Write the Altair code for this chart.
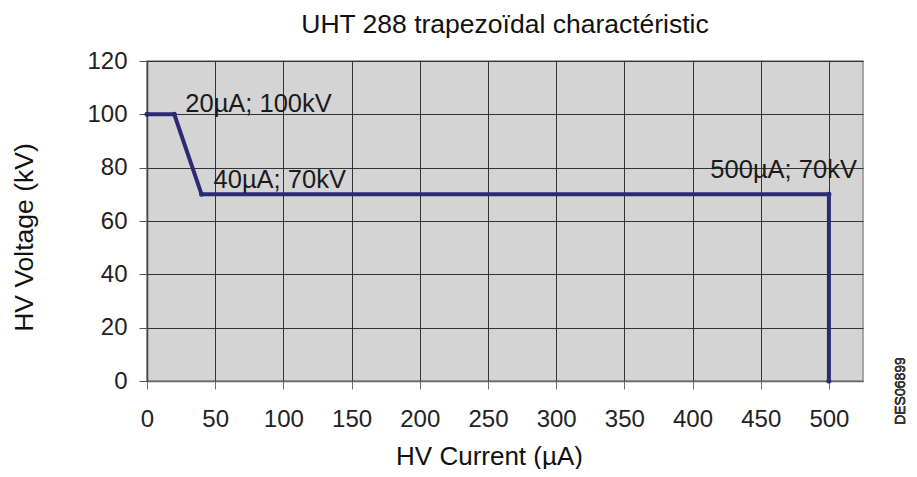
import altair as alt
import pandas as pd

# Data
current_uA = [0, 20, 40, 500, 500]
voltage_kV = [100, 100, 70, 70, 0]

label_current = [20, 40, 500]
label_voltage = [100, 70, 70]
label_text = ["20µA; 100kV", "40µA; 70kV", "500µA; 70kV"]

x_tick_values = list(range(0, 526, 25))
y_tick_values = list(range(0, 121, 10))

FONT = "Liberation Sans"
LINE_COLOR = "#2B2B75"

df = pd.DataFrame({"current": current_uA, "voltage": voltage_kV,
                   "order": list(range(len(current_uA)))})
lab = pd.DataFrame({"current": label_current, "voltage": label_voltage,
                    "text": label_text, "idx": list(range(len(label_text)))})

xscale = alt.Scale(domain=[0, 525], nice=False, zero=True)
yscale = alt.Scale(domain=[0, 120], nice=False, zero=True)

xaxis = alt.Axis(
    values=x_tick_values,
    labelExpr="(datum.value % 50 === 0 && datum.value <= 500) ? datum.label : ''",
    tickColor={"condition": {"test": "datum.value % 50 === 0 && datum.value <= 500",
                             "value": "#707070"}, "value": "transparent"},
    tickSize=8,
    labelPadding=18,
    labelFontSize=24,
    labelFont=FONT,
    labelColor="#222222",
    labelFlush=False,
    labelOverlap=False,
    grid=True,
    gridColor="#333333",
    gridWidth=1,
    domainColor="#666666",
    domainWidth=1.5,
    title="HV Current (µA)",
    titleFont=FONT,
    titleFontSize=26,
    titleFontWeight="normal",
    titleColor="#111111",
    titleBaseline="alphabetic",
    titleX=342,
    titleY=83,
)

yaxis = alt.Axis(
    values=y_tick_values,
    labelExpr="datum.value % 20 === 0 ? datum.label : ''",
    tickColor="#555555",
    tickSize=8,
    labelPadding=12,
    labelFontSize=24,
    labelFont=FONT,
    labelColor="#222222",
    labelFlush=False,
    labelOverlap=False,
    grid=True,
    gridColor="#333333",
    gridWidth=1,
    domainColor="#444444",
    domainWidth=1.5,
    title="HV Voltage (kV)",
    titleFont=FONT,
    titleFontSize=26.5,
    titleFontWeight="normal",
    titleColor="#111111",
    titleAngle=-90,
    titleBaseline="alphabetic",
    titleX=-115,
    titleY=176,
)

line = alt.Chart(df).mark_line(
    color=LINE_COLOR, strokeWidth=4,
    point=alt.OverlayMarkDef(filled=True, color=LINE_COLOR, size=25),
).encode(
    x=alt.X("current:Q", scale=xscale, axis=xaxis),
    y=alt.Y("voltage:Q", scale=yscale, axis=yaxis),
    order="order:Q",
)

offsets = [(11, -2, "left"), (12, -6, "left"), (28, -16, "right")]
texts = []
for i, (dx, dy, al) in enumerate(offsets):
    texts.append(
        alt.Chart(lab).transform_filter(f"datum.idx === {i}").mark_text(
            font=FONT, fontSize=25.5, color="#1a1a1a", align=al,
            baseline="alphabetic", dx=dx, dy=dy,
        ).encode(x=alt.X("current:Q", scale=xscale),
                 y=alt.Y("voltage:Q", scale=yscale),
                 text="text:N")
    )

code = alt.Chart(df).mark_text(
    font=FONT, fontSize=14, fontWeight="normal", color="#333333", angle=270,
    align="center", baseline="middle",
).encode(x=alt.value(754), y=alt.value(330), text=alt.value("DES06899"))

chart = alt.layer(line, *texts, code).properties(
    width=716,
    height=320,
    title=alt.TitleParams(
        "UHT 288 trapezoïdal charactéristic",
        font=FONT, fontSize=26.5, fontWeight="normal", color="#111111",
        anchor="middle", frame="group", offset=11,
    ),
    autosize=alt.AutoSizeParams(type="none"),
    padding={"left": 139, "top": 53, "right": 46, "bottom": 88},
).configure_view(
    fill="#D4D4D4", stroke="#8f8f8f", strokeWidth=1.5,
)

chart.save("out.html", embed_options={"renderer": "svg", "actions": False})
